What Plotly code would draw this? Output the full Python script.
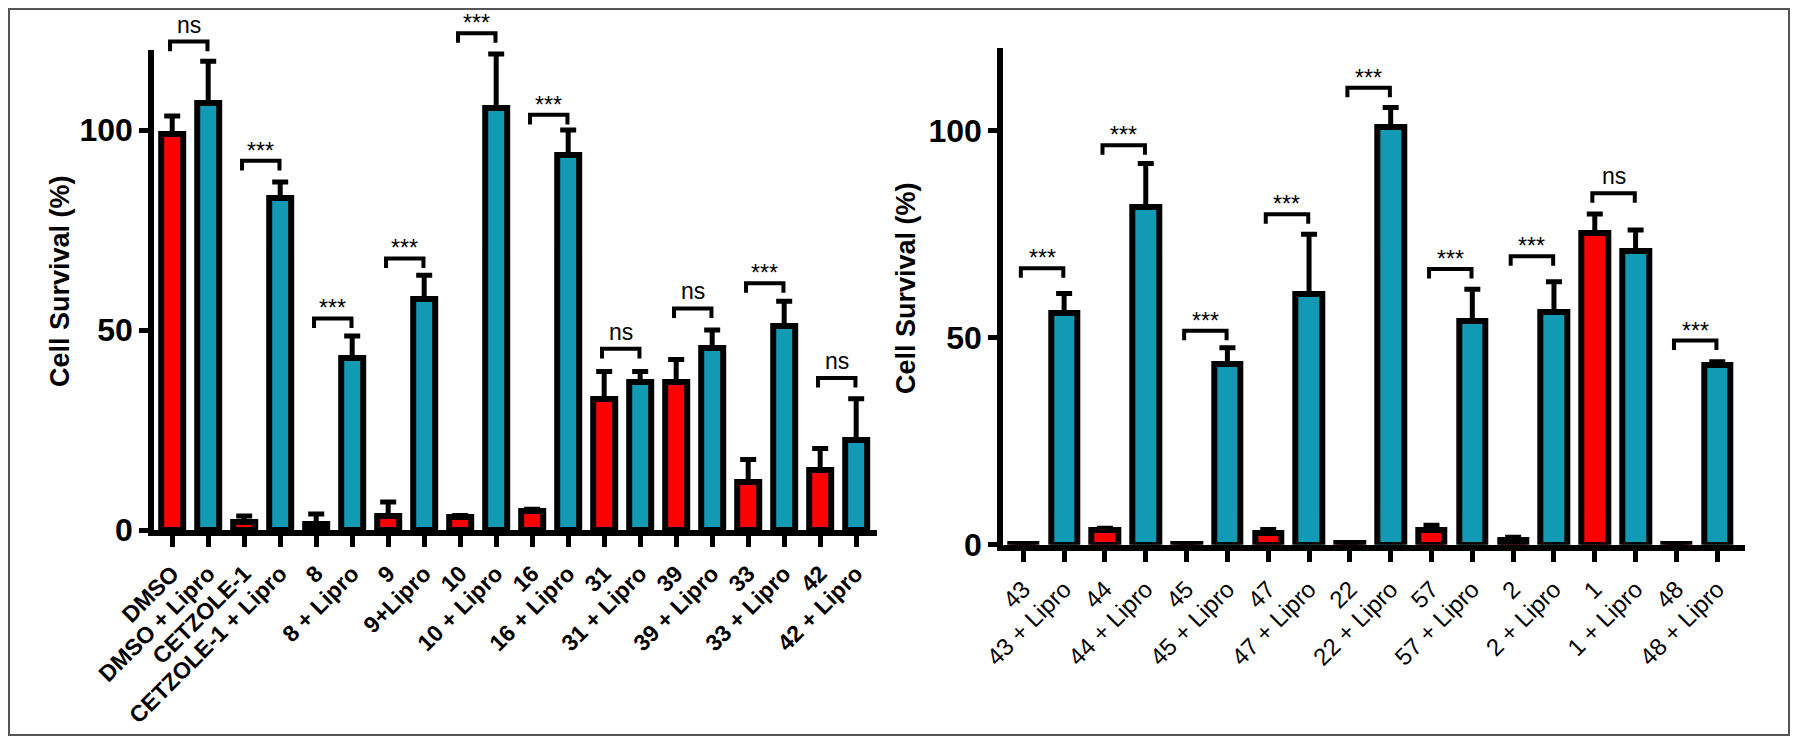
import plotly.graph_objects as go

# ---------------- data ----------------
labels_left = ["DMSO", "DMSO + Lipro", "CETZOLE-1", "CETZOLE-1 + Lipro", "8", "8 + Lipro",
               "9", "9+Lipro", "10", "10 + Lipro", "16", "16 + Lipro", "31", "31 + Lipro",
               "39", "39 + Lipro", "33", "33 + Lipro", "42", "42 + Lipro"]
values_left = [99, 106.7, 2, 83, 1.5, 43, 3.5, 57.7, 3.3, 105.4, 4.8, 93.7,
               32.8, 36.9, 36.9, 45.6, 12.1, 50.9, 15, 22.4]
err_left = [4.5, 10.5, 1.5, 4, 2.5, 5.5, 3.5, 6, 0.3, 13.6, 0.4, 6.3,
            6.8, 2.7, 5.7, 4.4, 5.5, 6.3, 5.4, 10.4]
sig_start_left = [0, 2, 4, 6, 8, 10, 12, 14, 16, 18]
sig_height_left = [122.1, 92.3, 52.9, 67.9, 124.2, 103.8, 45.3, 55.4, 61.7, 38.0]
sig_label_left = ["ns", "***", "***", "***", "***", "***", "ns", "ns", "***", "ns"]

labels_right = ["43", "43 + Lipro", "44", "44 + Lipro", "45", "45 + Lipro", "47", "47 + Lipro",
                "22", "22 + Lipro", "57", "57 + Lipro", "2", "2 + Lipro", "1", "1 + Lipro",
                "48", "48 + Lipro"]
values_right = [0.3, 55.9, 3.5, 81.6, 0.2, 43.6, 2.9, 60.7, 0.5, 101, 3.5, 54,
                1.2, 56.3, 75.2, 71, 0.2, 43.4]
err_right = [0, 4.8, 0.5, 10.5, 0, 4, 0.8, 14.3, 0, 4.6, 1.2, 7.7,
             0.6, 7.2, 4.7, 5, 0, 0.8]
sig_start_right = [0, 2, 4, 6, 8, 10, 12, 14, 16]
sig_height_right = [66.8, 96.5, 51.7, 79.8, 110.4, 66.6, 69.7, 84.9, 49.3]
sig_label_right = ["***", "***", "***", "***", "***", "***", "***", "ns", "***"]

y_ticks = [0, 50, 100]
y_range = [0, 120]
y_title = "Cell Survival (%)"

# ---------------- style / layout ----------------
RED = "#FF0000"
TEAL = "#129AB4"
FONT = "Liberation Sans, Arial, sans-serif"
OFF = 8                      # page body margin of the exported html
FW, FH = 1800 - 2 * OFF, 744 - 2 * OFF


def px(X):                   # window pixel -> paper x
    return (X - OFF) / FW


def py(Y):                   # window pixel -> paper y
    return 1 - (Y - OFF) / FH


xrange_left = [-0.5, 19.57]
xrange_right = [-0.49, 17.68]

fig = go.Figure()


def add_panel(labels, values, errs, xa, ya, bar_w):
    xs = list(range(len(labels)))
    colors = [TEAL if "Lipro" in l else RED for l in labels]
    fig.add_trace(go.Bar(
        x=xs, y=values, width=bar_w, xaxis=xa, yaxis=ya,
        marker=dict(color=colors, line=dict(color="black", width=6)),
        error_y=dict(type="data", symmetric=False,
                     array=[e if e > 0 else None for e in errs],
                     arrayminus=[0] * len(errs),
                     color="black", thickness=5, width=8),
        showlegend=False, hoverinfo="skip"))


add_panel(labels_left, values_left, err_left, "x", "y", 0.62)
add_panel(labels_right, values_right, err_right, "x2", "y2", 0.65)

shapes = []
annotations = []


def add_sig(starts, heights, labels, xname, yname, xr, leg):
    # brackets use axis-domain references (mapped through the axis range) so they are not clipped
    fx = lambda v: (v - xr[0]) / (xr[1] - xr[0])
    fy = lambda v: (v - y_range[0]) / (y_range[1] - y_range[0])
    for s, h, lab in zip(starts, heights, labels):
        x0, x1 = fx(s - 0.06), fx(s + 0.98)
        y0, y1 = fy(h - leg), fy(h)
        shapes.append(dict(type="path", xref=f"{xname} domain", yref=f"{yname} domain",
                           path=f"M {x0},{y0} L {x0},{y1} L {x1},{y1} L {x1},{y0}",
                           line=dict(color="black", width=4)))
        annotations.append(dict(x=fx(s + 0.46), y=fy(h), xref=f"{xname} domain",
                                yref=f"{yname} domain", text=lab,
                                showarrow=False, xanchor="center", yanchor="bottom",
                                yshift=2 if lab == "ns" else -5,
                                font=dict(family=FONT, size=23, color="black")))


add_sig(sig_start_left, sig_height_left, sig_label_left, "x", "y", xrange_left, 2.4)
add_sig(sig_start_right, sig_height_right, sig_label_right, "x2", "y2", xrange_right, 2.3)

# outer frame
shapes.append(dict(type="rect", xref="paper", yref="paper",
                   x0=px(9), x1=px(1789), y0=py(735), y1=py(9),
                   line=dict(color="#555555", width=2)))

# axis titles
for (tx, ty) in [(60, 281), (906, 288)]:
    annotations.append(dict(x=px(tx), y=py(ty), xref="paper", yref="paper", text=y_title,
                            textangle=-90, showarrow=False, xanchor="center", yanchor="middle",
                            font=dict(family=FONT, size=27, color="black", weight="bold")))

xcommon = dict(showline=True, linecolor="black", linewidth=6, ticks="outside",
               ticklen=11, tickwidth=5, tickcolor="black", tickangle=-45,
               ticklabelstandoff=4,
               showgrid=False, zeroline=False, fixedrange=True, automargin=False)
ycommon = dict(showline=True, linecolor="black", linewidth=6, ticks="outside",
               ticklen=9, tickwidth=5, tickcolor="black", tickvals=y_ticks,
               range=y_range, showgrid=False, zeroline=False, fixedrange=True,
               automargin=False,
               tickfont=dict(family=FONT, size=32, color="black", weight="bold"))

fig.update_layout(
    width=FW, height=FH,
    margin=dict(l=0, r=0, t=0, b=0, autoexpand=False),
    paper_bgcolor="white", plot_bgcolor="white",
    bargap=0,
    xaxis=dict(**xcommon, domain=[px(154.2), px(876.7)], range=xrange_left,
               tickvals=list(range(len(labels_left))), ticktext=labels_left,
               tickfont=dict(family=FONT, size=23, color="black", weight="bold"),
               anchor="y"),
    yaxis=dict(**ycommon, domain=[py(530), py(50)], anchor="x"),
    xaxis2=dict(**xcommon, domain=[px(1003.3), px(1745)], range=xrange_right,
                tickvals=list(range(len(labels_right))), ticktext=labels_right,
                tickfont=dict(family=FONT, size=24, color="black"),
                anchor="y2"),
    yaxis2=dict(**ycommon, domain=[py(544.7), py(47.9)], anchor="x2"),
    shapes=shapes,
    annotations=annotations,
)

fig.write_html("out.html")
